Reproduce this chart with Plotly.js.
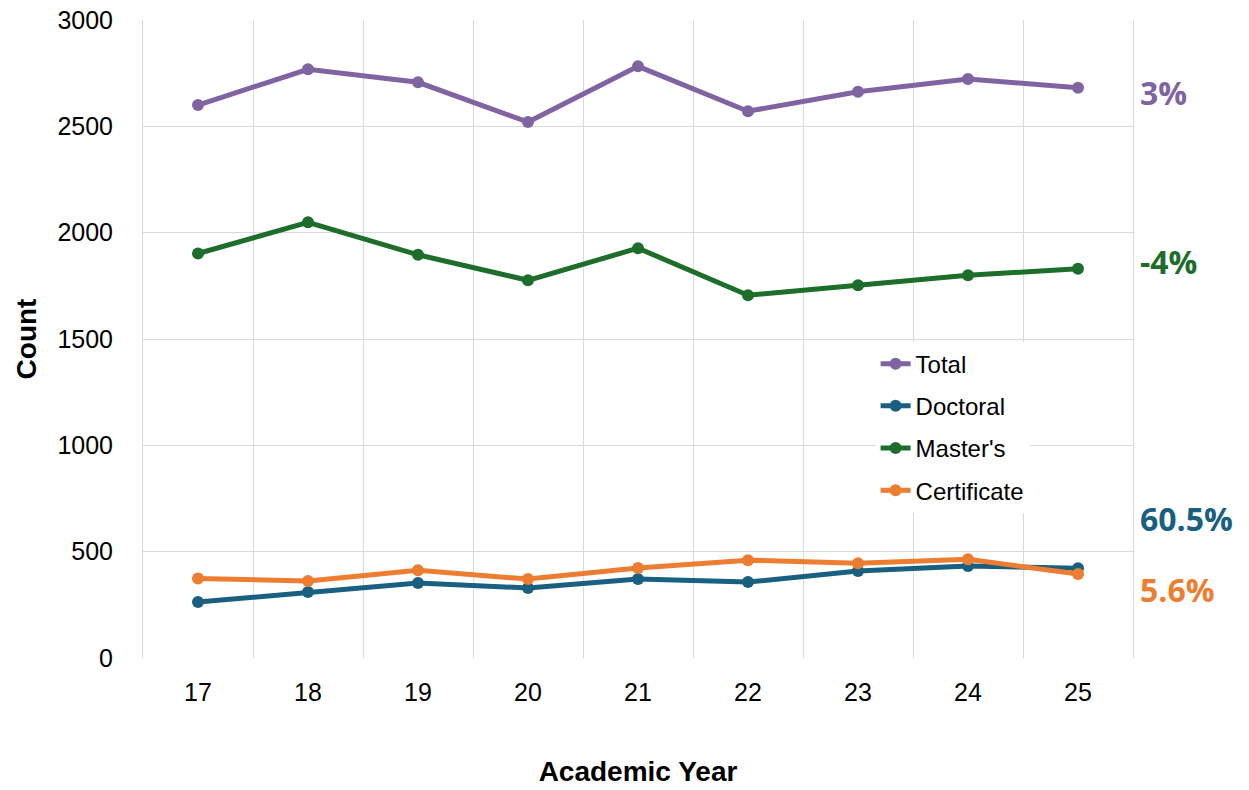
<!DOCTYPE html>
<html>
<head>
<meta charset="utf-8">
<script src="https://cdn.plot.ly/plotly-3.0.1.min.js"></script>
<style>html,body{margin:0;padding:0;background:#fff;}#chart{width:1249px;height:790px;}</style>
</head>
<body>
<div id="chart"></div>
<script>
const years = ['17','18','19','20','21','22','23','24','25'];
const total = [2600, 2768, 2707, 2520, 2782, 2571, 2663, 2723, 2681];
const doctoral = [263, 310, 353, 329, 371, 357, 409, 433, 422];
const masters = [1902, 2049, 1896, 1776, 1927, 1706, 1753, 1800, 1830];
const certificate = [374, 362, 413, 371, 423, 460, 446, 464, 395];
const changeLabels = ['3%', '-4%', '60.5%', '5.6%'];
const changeY = [2660, 1866, 658, 320];

const colors = {total:'#8064A2', doctoral:'#185F80', masters:'#1D6E2A', certificate:'#ED7D31'};
const labelColors = [colors.total, colors.masters, colors.doctoral, colors.certificate];

function tr(name, y, c, g){
  return {x: years, y: y, name: name, type: 'scatter', mode: 'lines+markers',
    line: {color: c, width: 5}, marker: {color: c, size: 12}, legendgroup: g};
}
const data = [
  tr('Total', total, colors.total, 'a'),
  tr('Doctoral', doctoral, colors.doctoral, 'b'),
  tr("Master's", masters, colors.masters, 'c'),
  tr('Certificate', certificate, colors.certificate, 'd')
];

const annotations = changeLabels.map((t, i) => ({
  text: '<b>' + t + '</b>', xref: 'paper', yref: 'y', x: 1.005, y: changeY[i],
  xanchor: 'left', yanchor: 'middle', showarrow: false,
  font: {family: 'Open Sans', size: 32, color: labelColors[i]}
}));

const layout = {
  width: 1249, height: 790,
  margin: {l: 143, r: 116, t: 20, b: 132},
  paper_bgcolor: '#fff', plot_bgcolor: '#fff',
  font: {family: 'Liberation Sans, Arial, sans-serif', color: '#000'},
  showlegend: true,
  legend: {x: 0.74, y: 0.496, xanchor: 'left', yanchor: 'top', bgcolor: '#fff',
    font: {size: 24, color: '#000'}, traceorder: 'grouped', tracegroupgap: 8},
  xaxis: {type: 'category', range: [-0.5, 8.5], tickson: 'boundaries',
    showgrid: true, gridcolor: '#D9D9D9', gridwidth: 1, zeroline: false,
    ticks: '', ticklabelstandoff: 17, tickfont: {size: 25},
    title: {text: '<b>Academic Year</b>', font: {size: 28}, standoff: 56}},
  yaxis: {range: [0, 3000], dtick: 500, showgrid: true, gridcolor: '#D9D9D9',
    gridwidth: 1, zeroline: false, showline: true, linecolor: '#D9D9D9', mirror: true,
    ticks: '', ticklabelstandoff: 24, tickfont: {size: 25},
    title: {text: '<b>Count</b>', font: {size: 28}, standoff: 12}},
  annotations: annotations
};

Plotly.newPlot('chart', data, layout, {displayModeBar: false, staticPlot: true});
</script>
</body>
</html>
